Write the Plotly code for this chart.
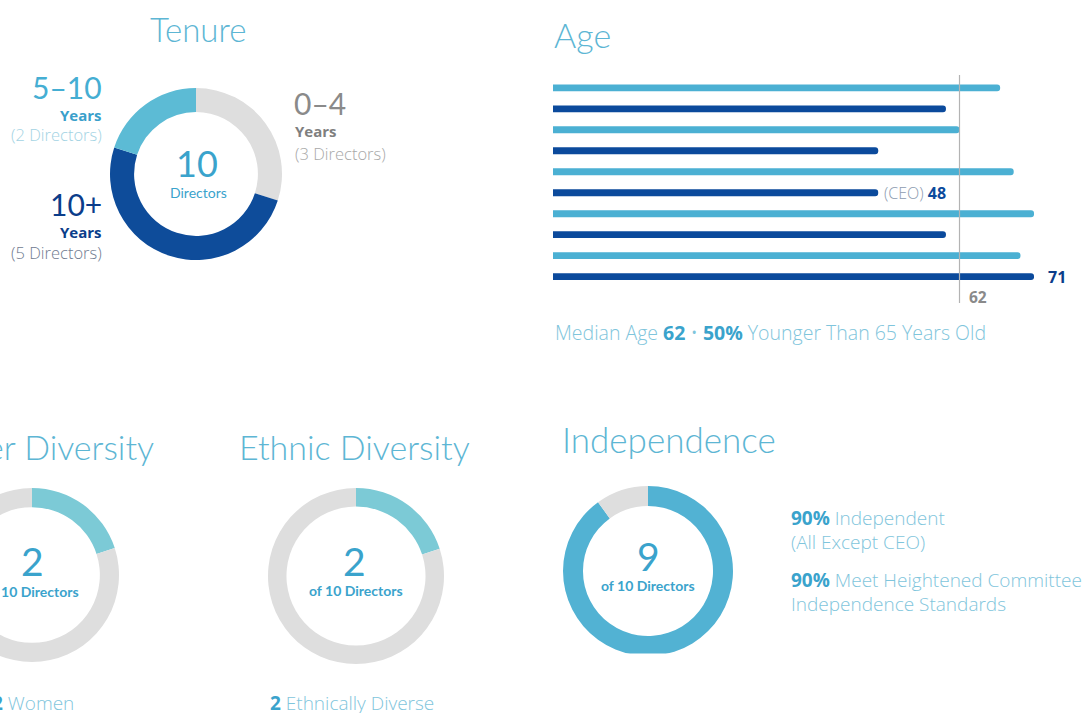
import plotly.graph_objects as go

# ---------------- data ----------------
tenure_labels = ["0-4 Years", "10+ Years", "5-10 Years"]
tenure_values = [3, 5, 2]

age_directors = [f"Director {i}" for i in range(1, 11)]
age_values = [66, 58, 60, 48, 68, 48, 71, 58, 69, 71]
median_line_value = 60      # where the median rule sits on the age scale
median_label = "62"

gender_labels = ["Women", "Men"]
gender_values = [2, 8]

ethnic_labels = ["Ethnically Diverse", "Other"]
ethnic_values = [2, 8]

indep_labels = ["Independent", "Not Independent"]
indep_values = [9, 1]

# ---------------- geometry helpers ----------------
S = 64            # hidden strip on the left (figure shifted left by S px)
W = 1091 + S
H = 713


def px(x):
    return (x + S) / W


def py(y):
    return 1 - y / H


def dom(cx, cy, r):
    return dict(x=[px(cx - r), px(cx + r)], y=[py(cy + r), py(cy - r)])


FONT = "Lato"
BODY = "Open Sans"
TEAL = "#3aa3cc"
LIGHT_TXT = "#7fc5dc"
GRAY = "#dedede"

fig = go.Figure()

# Tenure donut
fig.add_trace(go.Pie(
    labels=tenure_labels, values=tenure_values, hole=0.72, sort=False,
    direction="clockwise", rotation=0, textinfo="none", hoverinfo="label+value",
    marker=dict(colors=[GRAY, "#0e4c9a", "#5cbbd5"], line=dict(width=0)),
    domain=dom(196, 174, 86), showlegend=False))

# Gender donut
fig.add_trace(go.Pie(
    labels=gender_labels, values=gender_values, hole=0.78, sort=False,
    direction="clockwise", rotation=0, textinfo="none",
    marker=dict(colors=["#7ccad6", GRAY], line=dict(width=0)),
    domain=dom(32, 575, 87), showlegend=False))

# Ethnic donut
fig.add_trace(go.Pie(
    labels=ethnic_labels, values=ethnic_values, hole=0.79, sort=False,
    direction="clockwise", rotation=0, textinfo="none",
    marker=dict(colors=["#7ccad6", GRAY], line=dict(width=0)),
    domain=dom(356, 576, 88), showlegend=False))

# Independence donut
fig.add_trace(go.Pie(
    labels=indep_labels, values=indep_values, hole=0.765, sort=False,
    direction="clockwise", rotation=0, textinfo="none",
    marker=dict(colors=["#52b2d3", GRAY], line=dict(width=0)),
    domain=dom(648, 571, 85), showlegend=False))

# Age bars
bar_colors = ["#4bb0d3" if i % 2 == 0 else "#0b4a9c" for i in range(len(age_values))]
fig.add_trace(go.Bar(
    x=age_values, y=age_directors, orientation="h",
    marker=dict(color=bar_colors, cornerradius=4, line=dict(width=0)),
    showlegend=False, hovertemplate="%{x}<extra></extra>"))

fig.update_layout(
    width=W, height=H,
    margin=dict(l=0, r=0, t=0, b=0),
    paper_bgcolor="white", plot_bgcolor="rgba(0,0,0,0)",
    bargap=0.67,
    font=dict(family=FONT, color=TEAL),
    xaxis=dict(domain=[px(553), px(1091)], range=[0, (1091 - 553) / 6.775],
               visible=False, fixedrange=True),
    yaxis=dict(domain=[py(289.6), py(77.4)], autorange="reversed",
               visible=False, fixedrange=True, categoryorder="array",
               categoryarray=age_directors),
)

# median rule
fig.add_shape(type="line", xref="x", yref="paper",
              x0=median_line_value, x1=median_line_value, y0=py(303), y1=py(75),
              line=dict(color="#b3b3b3", width=1.2))

# white strip that trims the bottom of the independence ring
fig.add_shape(type="rect", xref="paper", yref="paper", layer="above",
              x0=px(550), x1=px(745), y0=py(672), y1=py(653.5),
              fillcolor="white", line=dict(width=0))

ann = []


def A(text, x, y, size, color, xanchor="center", weight=None, family=FONT,
      xref="paper", yref="paper", **kw):
    f = dict(family=family, size=size, color=color)
    if weight:
        f["weight"] = weight
    d = dict(text=text, x=x, y=y, xref=xref, yref=yref, xanchor=xanchor,
             yanchor="middle", showarrow=False, font=f)
    d.update(kw)
    ann.append(d)


TITLE = "#5db6d4"
# titles
A("Tenure", px(198), py(29), 33, TITLE, weight=300)
A("Age", px(552), py(35), 34, TITLE, xanchor="left", weight=300)
A("Gender Diversity", px(156), py(447), 34, TITLE, xanchor="right", weight=300)
A("Ethnic Diversity", px(354), py(447), 34, TITLE, weight=300)
A("Independence", px(560), py(439), 35, TITLE, xanchor="left", weight=300)

# tenure labels
A("5\u201310", px(104), py(87), 30, "#45aed3", xanchor="right")
A("<b>Years</b>", px(104), py(115), 15, "#3a9fcb", xanchor="right", family=BODY)
A("(2 Directors)", px(104), py(135), 16.5, "#a3d3e3", xanchor="right", weight=300, family=BODY)
A("10+", px(104), py(204), 30, "#0b3d8a", xanchor="right")
A("<b>Years</b>", px(104), py(232), 15, "#0b3d8a", xanchor="right", family=BODY)
A("(5 Directors)", px(104), py(252), 16.5, "#6f7b90", xanchor="right", weight=300, family=BODY)
A("0\u20134", px(292), py(103), 30, "#8a8a8a", xanchor="left")
A("<b>Years</b>", px(293), py(131), 15, "#7f7f7f", xanchor="left", family=BODY)
A("(3 Directors)", px(293), py(153), 16.5, "#a8a8a8", xanchor="left", weight=300, family=BODY)
A("10", px(197), py(163), 36, TEAL)
A("Directors", px(198), py(192), 14, TEAL)

# donut centres
A("2", px(32), py(561), 39, TEAL, height=38)
A("<b>of 10 Directors</b>", px(32), py(591), 14, TEAL)
A("2", px(355), py(561), 39, TEAL, height=38)
A("<b>of 10 Directors</b>", px(356), py(590), 14, TEAL)
A("9", px(648), py(556), 39, TEAL, height=38)
A("<b>of 10 Directors</b>", px(648), py(585), 14, TEAL)

# bottom captions
A(f"<b><span style='color:{TEAL}'>2</span></b> Women", px(33), py(703), 19, LIGHT_TXT, family=BODY, weight=300)
A(f"<b><span style='color:{TEAL}'>2</span></b> Ethnically Diverse", px(352), py(703), 19, LIGHT_TXT, family=BODY, weight=300)

# independence text
A(f"<b><span style='color:{TEAL}'>90%</span></b> Independent", px(789), py(518), 19, LIGHT_TXT, xanchor="left", family=BODY, weight=300)
A("(All Except CEO)", px(789), py(542), 19, LIGHT_TXT, xanchor="left", family=BODY, weight=300)
A(f"<b><span style='color:{TEAL}'>90%</span></b> Meet Heightened Committee", px(789), py(580), 19, LIGHT_TXT, xanchor="left", family=BODY, weight=300)
A("Independence Standards", px(789), py(604), 19, LIGHT_TXT, xanchor="left", family=BODY, weight=300)

# age labels
A(f"<span style='color:#8d9bb0'>(CEO)</span> <b>{age_values[5]}</b>", age_values[5], age_directors[5],
  16, "#0b4a9c", xanchor="left", xref="x", yref="y", xshift=4, family=BODY, weight=300)
A(f"<b>{age_values[9]}</b>", age_values[9], age_directors[9], 16, "#0b3d8a",
  xanchor="left", xref="x", yref="y", xshift=12, family=BODY)
A(f"<b>{median_label}</b>", median_line_value, py(297), 15.5, "#8a8a8a",
  xanchor="left", xref="x", yref="paper", xshift=7, family=BODY)
A(f"Median Age <b><span style='color:{TEAL}'>{median_label}</span></b> \u2022 "
  f"<b><span style='color:{TEAL}'>50%</span></b> Younger Than 65 Years Old",
  px(553), py(332), 19.5, LIGHT_TXT, xanchor="left", family=BODY, weight=300)

fig.update_layout(annotations=ann)

post = ("document.body.style.margin='0';document.body.style.overflow='hidden';"
        "var g=document.getElementById('{plot_id}');g.style.marginLeft='-%dpx';" % S)
fig.write_html("out.html", post_script=post, config={"displayModeBar": False})
